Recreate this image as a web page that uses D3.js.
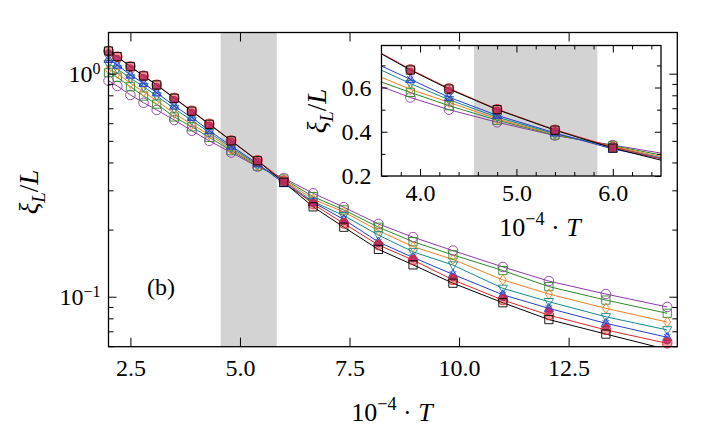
<!DOCTYPE html>
<html><head><meta charset="utf-8">
<script src="https://cdn.jsdelivr.net/npm/d3@7"></script>
<style>
body{margin:0;background:#fff}
svg{display:block}
text{font-family:"Liberation Serif","DejaVu Serif",serif;fill:#000}
</style>
</head><body>
<svg id="c" width="728" height="428"></svg>
<script>
// ---------------- data ----------------
const T = [2.0, 2.2, 2.5, 2.8, 3.1, 3.5, 3.9, 4.3, 4.8, 5.4, 6.0, 6.67, 7.37, 8.16, 8.95, 9.86, 11.0, 12.05, 13.35, 14.75];
const purple  = [0.930, 0.881, 0.803, 0.741, 0.688, 0.620, 0.555, 0.500, 0.443, 0.383, 0.340, 0.291, 0.252, 0.212, 0.185, 0.161, 0.136, 0.1175, 0.1028, 0.0900];
const green   = [1.010, 0.964, 0.874, 0.794, 0.731, 0.640, 0.578, 0.518, 0.452, 0.385, 0.337, 0.281, 0.245, 0.205, 0.1765, 0.154, 0.131, 0.111, 0.0966, 0.0843];
const orange  = [1.046, 1.004, 0.906, 0.830, 0.757, 0.664, 0.592, 0.533, 0.458, 0.388, 0.334, 0.2734, 0.240, 0.198, 0.1677, 0.147, 0.119, 0.1028, 0.0887, 0.077];
const teal    = [1.110, 1.050, 0.955, 0.875, 0.795, 0.698, 0.618, 0.545, 0.466, 0.391, 0.330, 0.267, 0.231, 0.189, 0.159, 0.1387, 0.109, 0.095, 0.0813, 0.071];
const blue    = [1.160, 1.094, 0.987, 0.906, 0.822, 0.717, 0.637, 0.556, 0.474, 0.395, 0.322, 0.265, 0.222, 0.176, 0.150, 0.126, 0.102, 0.0887, 0.076, 0.0658];
const magenta = [1.240, 1.170, 1.060, 0.962, 0.875, 0.765, 0.672, 0.588, 0.497, 0.405, 0.328, 0.262, 0.217, 0.173, 0.148, 0.122, 0.0994, 0.0865, 0.073, 0.0635];
const red     = [1.264, 1.192, 1.078, 0.979, 0.892, 0.779, 0.682, 0.596, 0.502, 0.409, 0.331, 0.260, 0.213, 0.1705, 0.146, 0.119, 0.0966, 0.0827, 0.071, 0.0618];
const black   = [1.264, 1.192, 1.075, 0.977, 0.890, 0.776, 0.679, 0.593, 0.500, 0.407, 0.326, 0.253, 0.205, 0.163, 0.139, 0.115, 0.094, 0.079, 0.068, 0.058];

const seriesValues  = [purple, green, orange, teal, blue, magenta, red, black];
const seriesColors  = ["#8e3aa6", "#2a8a2a", "#f07f22", "#14878c", "#2340c8", "#9a2a8a", "#e02828", "#000000"];
const seriesFills   = ["none", "none", "none", "none", "rgba(35,64,200,0.3)", "rgba(160,40,140,0.8)", "rgba(224,40,40,0.45)", "none"];
const seriesMarkers = ["circle", "square", "diamond", "triDown", "triUpX", "smallCircle", "circle", "square"];
const seriesHasLine = [true, true, true, true, true, false, true, true];

const bandT = [4.56, 5.84];

const xTicksMain = [2.5, 5.0, 7.5, 10.0, 12.5];
const yTicksMainMajor = [0.1, 1];
const yTicksMainMinor = [0.06, 0.07, 0.08, 0.09, 0.2, 0.3, 0.4, 0.5, 0.6, 0.7, 0.8, 0.9];
const xTicksInsetMajor = [4.0, 5.0, 6.0];
const xTicksInsetMinor = [3.8, 4.2, 4.4, 4.6, 4.8, 5.2, 5.4, 5.6, 5.8, 6.2, 6.4];
const yTicksInsetMajor = [0.2, 0.4, 0.6];
const yTicksInsetMinor = [0.3, 0.5, 0.7];

// ---------------- layout ----------------
const svg = d3.select("#c");
const M = {l: 108.5, r: 677.3, t: 32.5, b: 346.7};
const I = {l: 381.5, r: 661, t: 45.5, b: 176};

const xM = d3.scaleLinear().domain([2.0, 14.98]).range([M.l, M.r]);
const yM = d3.scaleLog().domain([0.0597, 1.53]).range([M.b, M.t]);
const xI = d3.scaleLinear().domain([3.6, 6.5]).range([I.l, I.r]);
const yI = d3.scaleLinear().domain([0.2, 0.79]).range([I.b, I.t]);

const defs = svg.append("defs");
defs.append("clipPath").attr("id", "clipM").append("rect")
  .attr("x", M.l).attr("y", M.t).attr("width", M.r - M.l).attr("height", M.b - M.t);
defs.append("clipPath").attr("id", "clipI").append("rect")
  .attr("x", I.l).attr("y", I.t).attr("width", I.r - I.l).attr("height", I.b - I.t);

function markerPath(kind) {
  if (kind === "circle") return d3.symbol(d3.symbolCircle, 72)();
  if (kind === "smallCircle") return d3.symbol(d3.symbolCircle, 34)();
  if (kind === "square") return d3.symbol(d3.symbolSquare, 68)();
  if (kind === "diamond") return "M0,-5.2L3.5,0L0,5.2L-3.5,0Z";
  if (kind === "triUpX") return "M0,-5L4.6,3.2L-4.6,3.2Z M-3.2,-3.2L3.2,3.2 M3.2,-3.2L-3.2,3.2";
  if (kind === "triDown") return "M0,5L4.6,-3.2L-4.6,-3.2Z";
}

function drawPanel(g, x, y, clipId, withinX, withinY) {
  g.append("rect")
    .attr("x", x(bandT[0])).attr("width", x(bandT[1]) - x(bandT[0]))
    .attr("y", y.range()[1]).attr("height", y.range()[0] - y.range()[1])
    .attr("fill", "#d3d3d3");
  const lg = g.append("g").attr("clip-path", `url(#${clipId})`);
  seriesValues.forEach((vals, i) => {
    if (!seriesHasLine[i]) return;
    const line = d3.line().x((d, j) => x(T[j])).y(d => y(d));
    lg.append("path").datum(vals).attr("d", line)
      .attr("fill", "none").attr("stroke", seriesColors[i]).attr("stroke-width", 1);
  });
  seriesValues.forEach((vals, i) => {
    const pts = vals.map((v, j) => ({t: T[j], v})).filter(p => withinX(p.t) && withinY(p.v));
    g.append("g").selectAll("path").data(pts).join("path")
      .attr("d", markerPath(seriesMarkers[i]))
      .attr("transform", p => `translate(${x(p.t)},${y(p.v)})`)
      .attr("fill", seriesFills[i])
      .attr("stroke", seriesColors[i])
      .attr("stroke-width", 0.9);
  });
}

const gM = svg.append("g");
drawPanel(gM, xM, yM, "clipM",
  t => t >= 2.0 && t <= 14.98, v => v >= 0.0597 && v <= 1.53);

function styleAxis(sel) {
  sel.select(".domain").remove();
  sel.selectAll(".tick line").attr("stroke", "#000").attr("stroke-width", 1);
  sel.selectAll("text").style("font-size", "24px");
}
const fmt1 = d3.format(".1f");
gM.append("g").attr("transform", `translate(0,${M.b})`)
  .call(d3.axisBottom(xM).tickValues(xTicksMain).tickFormat(fmt1).tickSizeInner(-9).tickSizeOuter(0).tickPadding(12))
  .call(styleAxis);
gM.append("g").attr("transform", `translate(0,${M.t})`)
  .call(d3.axisTop(xM).tickValues(xTicksMain).tickFormat("").tickSizeInner(-9).tickSizeOuter(0))
  .call(styleAxis);
const yMaj = gM.append("g").attr("transform", `translate(${M.l},0)`)
  .call(d3.axisLeft(yM).tickValues(yTicksMainMajor).tickSizeInner(-8).tickSizeOuter(0).tickPadding(8))
  .call(styleAxis);
yMaj.selectAll(".tick text").each(function(d) {
  const t = d3.select(this); t.text("");
  t.append("tspan").text("10");
  t.append("tspan").attr("dy", "-0.5em").style("font-size", "16px").text(d >= 1 ? "0" : "\u22121");
});
gM.append("g").attr("transform", `translate(${M.l},0)`)
  .call(d3.axisLeft(yM).tickValues(yTicksMainMinor).tickFormat("").tickSizeInner(-5).tickSizeOuter(0))
  .call(styleAxis);
gM.append("g").attr("transform", `translate(${M.r},0)`)
  .call(d3.axisRight(yM).tickValues(yTicksMainMajor).tickFormat("").tickSizeInner(-8).tickSizeOuter(0))
  .call(styleAxis);
gM.append("g").attr("transform", `translate(${M.r},0)`)
  .call(d3.axisRight(yM).tickValues(yTicksMainMinor).tickFormat("").tickSizeInner(-5).tickSizeOuter(0))
  .call(styleAxis);
gM.append("rect").attr("x", M.l).attr("y", M.t).attr("width", M.r - M.l).attr("height", M.b - M.t)
  .attr("fill", "none").attr("stroke", "#000").attr("stroke-width", 1.3);

function xLabel(g, cx, cy, size) {
  const t = g.append("text").attr("x", cx).attr("y", cy).attr("text-anchor", "middle").style("font-size", size + "px");
  t.append("tspan").text("10");
  t.append("tspan").attr("dy", -size * 0.42).style("font-size", (size * 0.7) + "px").text("\u22124");
  t.append("tspan").attr("dy", size * 0.42).text(" \u00B7 ");
  t.append("tspan").style("font-style", "italic").text("T");
}
function yLabel(g, cx, cy, size) {
  const t = g.append("text").attr("transform", `translate(${cx},${cy}) rotate(-90)`)
    .attr("text-anchor", "middle").style("font-size", size + "px");
  t.append("tspan").style("font-style", "italic").text("\u03BE");
  t.append("tspan").attr("dy", size * 0.25).style("font-size", (size * 0.7) + "px").style("font-style", "italic").text("L");
  t.append("tspan").attr("dy", -size * 0.25).text("/");
  t.append("tspan").style("font-style", "italic").text("L");
}
xLabel(svg, 392, 421, 26);
yLabel(svg, 38, 192, 27);
svg.append("text").attr("x", 161).attr("y", 295).attr("text-anchor", "middle").style("font-size", "24px").text("(b)");

// inset
const gI = svg.append("g");
gI.append("rect").attr("x", I.l).attr("y", I.t).attr("width", I.r - I.l).attr("height", I.b - I.t).attr("fill", "#fff");
drawPanel(gI, xI, yI, "clipI", t => t >= 3.6 && t <= 6.5, v => v >= 0.2 && v <= 0.79);
gI.append("g").attr("transform", `translate(0,${I.b})`)
  .call(d3.axisBottom(xI).tickValues(xTicksInsetMajor).tickFormat(fmt1).tickSizeInner(-7).tickSizeOuter(0).tickPadding(8))
  .call(styleAxis);
gI.append("g").attr("transform", `translate(0,${I.b})`)
  .call(d3.axisBottom(xI).tickValues(xTicksInsetMinor).tickFormat("").tickSizeInner(-4).tickSizeOuter(0))
  .call(styleAxis);
gI.append("g").attr("transform", `translate(0,${I.t})`)
  .call(d3.axisTop(xI).tickValues(xTicksInsetMajor).tickFormat("").tickSizeInner(-7).tickSizeOuter(0))
  .call(styleAxis);
gI.append("g").attr("transform", `translate(0,${I.t})`)
  .call(d3.axisTop(xI).tickValues(xTicksInsetMinor).tickFormat("").tickSizeInner(-4).tickSizeOuter(0))
  .call(styleAxis);
gI.append("g").attr("transform", `translate(${I.l},0)`)
  .call(d3.axisLeft(yI).tickValues(yTicksInsetMajor).tickFormat(fmt1).tickSizeInner(-6).tickSizeOuter(0).tickPadding(10))
  .call(styleAxis);
gI.append("g").attr("transform", `translate(${I.l},0)`)
  .call(d3.axisLeft(yI).tickValues(yTicksInsetMinor).tickFormat("").tickSizeInner(-4).tickSizeOuter(0))
  .call(styleAxis);
gI.append("g").attr("transform", `translate(${I.r},0)`)
  .call(d3.axisRight(yI).tickValues(yTicksInsetMajor).tickFormat("").tickSizeInner(-6).tickSizeOuter(0))
  .call(styleAxis);
gI.append("g").attr("transform", `translate(${I.r},0)`)
  .call(d3.axisRight(yI).tickValues(yTicksInsetMinor).tickFormat("").tickSizeInner(-4).tickSizeOuter(0))
  .call(styleAxis);
gI.append("rect").attr("x", I.l).attr("y", I.t).attr("width", I.r - I.l).attr("height", I.b - I.t)
  .attr("fill", "none").attr("stroke", "#000").attr("stroke-width", 1.3);
xLabel(svg, 540, 236, 26);
yLabel(svg, 326, 111, 27);
</script>
</body></html>
